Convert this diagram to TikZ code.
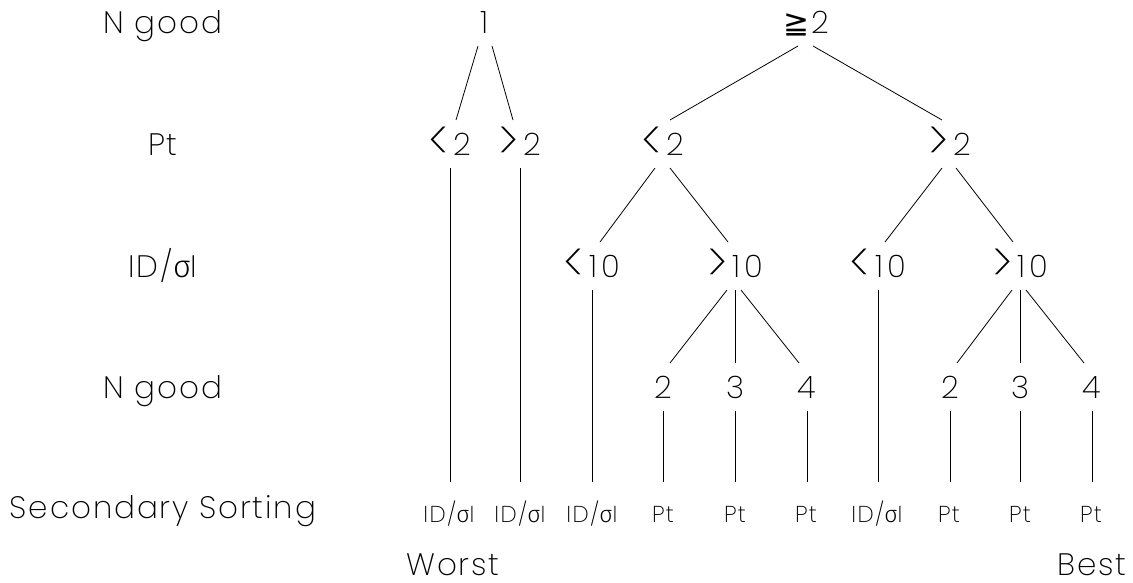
\documentclass[tikz,border=0pt]{standalone}
\usepackage{fontspec}
\usepackage{graphicx}
\setmainfont{Poppins}[UprightFont=* ExtraLight, LetterSpace=6]
\newfontfamily\grk{Fira Sans}[UprightFont=* Light]
\newfontfamily\symf{DejaVu Sans}
\newcommand{\sigI}{ID/{\grk σ}I}
\newcommand{\LT}{\raisebox{-5.3pt}{\scalebox{1.5}[1.77]{<}}\hspace{5pt}}
\newcommand{\GT}{\raisebox{-5.3pt}{\scalebox{1.5}[1.77]{>}}\hspace{5pt}}
\newcommand{\ten}{1\hspace{4pt}0}
\tikzset{
  big/.style={font=\fontsize{31}{31}\selectfont, inner sep=0pt, text height=22pt, text depth=0pt, outer ysep=13pt, anchor=base},
  small/.style={font=\fontsize{23}{23}\selectfont, inner sep=0pt, text height=17pt, text depth=0pt, outer ysep=23pt, anchor=base},
  conn/.style={line width=0.8pt, black}
}
\begin{document}
\begin{tikzpicture}[x=1pt,y=-1pt]
\useasboundingbox (0,0) rectangle (1133,582);
% left column labels
\node[big] (lng1) at (163,33) {N good};
\node[big] (lpt) at (163,155) {Pt};
\node[big] (lid) at (163,277) {\sigI};
\node[big] (lng2) at (163,398) {N good};
\node[big] (lsec) at (163,518) {Secondary Sorting};
% tree
\node[big] (one) at (485,33) {1};
\node[big] (ge) at (806,33) {{\symf ≧}\hspace{2pt}2};
\node[big] (a1) at (450,155) {\LT 2};
\node[big] (a2) at (520,155) {\GT 2};
\node[big] (b1) at (663,155) {\LT 2};
\node[big] (b2) at (950,155) {\GT 2};
\node[big] (c1) at (592,277) {\LT\ten};
\node[big] (c2) at (735,277) {\GT\ten};
\node[big] (c3) at (878,277) {\LT\ten};
\node[big] (c4) at (1020,277) {\GT\ten};
\node[big] (d1) at (663,398) {2};
\node[big] (d2) at (735,398) {3};
\node[big] (d3) at (807,398) {4};
\node[big] (d4) at (950,398) {2};
\node[big] (d5) at (1020,398) {3};
\node[big] (d6) at (1092,398) {4};
% leaves
\node[small] (e1) at (449,522) {\sigI};
\node[small] (e2) at (520,522) {\sigI};
\node[small] (e3) at (592,522) {\sigI};
\node[small] (e4) at (663,522) {Pt};
\node[small] (e5) at (735,522) {Pt};
\node[small] (e6) at (806,522) {Pt};
\node[small] (e7) at (877,522) {\sigI};
\node[small] (e8) at (949,522) {Pt};
\node[small] (e9) at (1020,522) {Pt};
\node[small] (e10) at (1091,522) {Pt};
\node[big] (worst) at (453,575) {Worst};
\node[big] (best) at (1092,575) {Best};
% connectors
\draw[conn] ([xshift=-7pt]one.south) -- ([xshift=6pt]a1.north);
\draw[conn] ([xshift=7pt]one.south) -- ([xshift=-7pt]a2.north);
\draw[conn] ([xshift=-8pt]ge.south) -- ([xshift=7pt]b1.north);
\draw[conn] ([xshift=7pt]ge.south) -- ([xshift=-8pt]b2.north);
\draw[conn] (a1.south) -- (a1.south |- e1.north);
\draw[conn] (a2.south) -- (a2.south |- e2.north);
\draw[conn] ([xshift=-8pt]b1.south) -- ([xshift=8pt]c1.north);
\draw[conn] ([xshift=7pt]b1.south) -- ([xshift=-7pt]c2.north);
\draw[conn] ([xshift=-8pt]b2.south) -- ([xshift=7pt]c3.north);
\draw[conn] ([xshift=6pt]b2.south) -- ([xshift=-7pt]c4.north);
\draw[conn] (c1.south) -- (c1.south |- e3.north);
\draw[conn] (c3.south) -- (c3.south |- e7.north);
\draw[conn] ([xshift=-8pt]c2.south) -- ([xshift=7pt]d1.north);
\draw[conn] (c2.south) -- (d2.north);
\draw[conn] ([xshift=6pt]c2.south) -- ([xshift=-8pt]d3.north);
\draw[conn] ([xshift=-8pt]c4.south) -- ([xshift=7pt]d4.north);
\draw[conn] (c4.south) -- (d5.north);
\draw[conn] ([xshift=6pt]c4.south) -- ([xshift=-8pt]d6.north);
\draw[conn] (d1.south) -- (d1.south |- e4.north);
\draw[conn] (d2.south) -- (d2.south |- e5.north);
\draw[conn] (d3.south) -- (d3.south |- e6.north);
\draw[conn] (d4.south) -- (d4.south |- e8.north);
\draw[conn] (d5.south) -- (d5.south |- e9.north);
\draw[conn] (d6.south) -- (d6.south |- e10.north);
\end{tikzpicture}
\end{document}
